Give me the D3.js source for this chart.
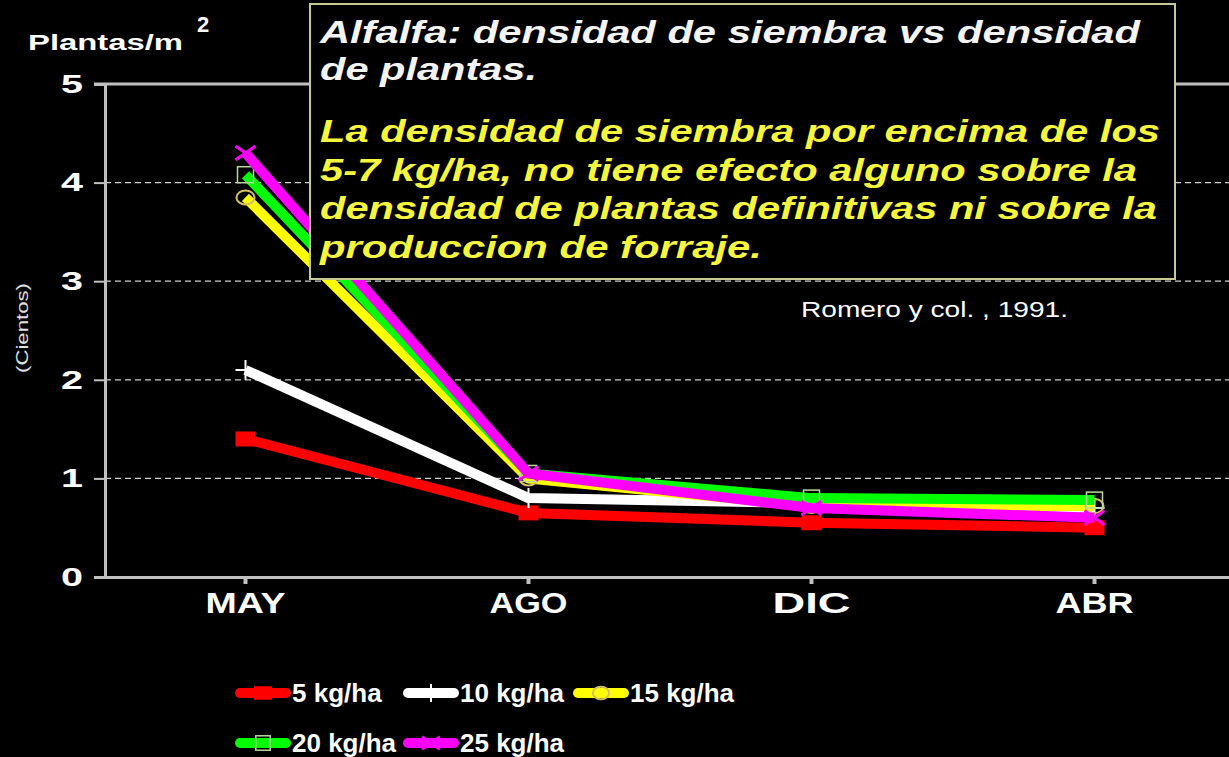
<!DOCTYPE html>
<html>
<head>
<meta charset="utf-8">
<script src="https://cdn.jsdelivr.net/npm/d3@7"></script>
<style>
  body { margin: 0; background: #000; }
  svg { display: block; font-family: "Liberation Sans", Arial, sans-serif; }
</style>
</head>
<body>
<svg id="chart" width="1229" height="757"></svg>
<script>
const width = 1229;
const height = 757;

// chart data
const months = ["MAY", "AGO", "DIC", "ABR"];
const seriesNames = ["5 kg/ha", "10 kg/ha", "15 kg/ha", "20 kg/ha", "25 kg/ha"];
const seriesColors = ["#ff0000", "#ffffff", "#ffff00", "#00ff00", "#ff00ff"];
const seriesMarkers = ["square", "plus", "circle", "hollowSquare", "cross"];
const kg5 = [1.4, 0.65, 0.55, 0.5];
const kg10 = [2.1, 0.8, 0.75, 0.7];
const kg15 = [3.85, 1.0, 0.72, 0.72];
const kg20 = [4.08, 1.05, 0.8, 0.78];
const kg25 = [4.3, 1.05, 0.7, 0.6];
const yTicks = [0, 1, 2, 3, 4, 5];

const seriesValues = [kg5, kg10, kg15, kg20, kg25];

// the slide text is drawn in a very wide face, so stretch lines to their width
function fit(sel, w) {
  sel.attr("textLength", w).attr("lengthAdjust", "spacingAndGlyphs");
}

const svg = d3.select("#chart");
svg.append("rect").attr("width", width).attr("height", height).attr("fill", "#000");

// scales
const x = d3.scaleBand().domain(months).range([104, 1236]);
const y = d3.scaleLinear().domain([0, 5]).range([577, 84]);

// dashed gridlines
svg.append("g")
  .selectAll("line")
  .data(yTicks.filter(d => d > 0 && d < 5))
  .enter()
  .append("line")
  .attr("x1", 105).attr("x2", width)
  .attr("y1", d => y(d)).attr("y2", d => y(d))
  .attr("stroke", "#d0d0d0")
  .attr("stroke-width", 1.2)
  .attr("stroke-dasharray", "6,4");

// top border of plot area
svg.append("line")
  .attr("x1", 94).attr("x2", width)
  .attr("y1", y(5)).attr("y2", y(5))
  .attr("stroke", "#c0c0c0").attr("stroke-width", 3);

// y axis
const yAxis = svg.append("g")
  .attr("transform", "translate(105,0)")
  .call(d3.axisLeft(y).tickValues(yTicks).tickSize(11).tickPadding(11).tickFormat(d3.format("d")));
yAxis.select(".domain").attr("stroke", "#c0c0c0").attr("stroke-width", 3);
yAxis.selectAll(".tick line").attr("stroke", "#c0c0c0").attr("stroke-width", 2);
yAxis.selectAll("text")
  .attr("fill", "#fff")
  .style("font-size", "26px")
  .style("font-weight", "bold")
  .call(fit, 22);

// x axis
const xAxis = svg.append("g")
  .attr("transform", `translate(0,${y(0)})`)
  .call(d3.axisBottom(x).tickSize(7).tickPadding(8).tickSizeOuter(0));
xAxis.select(".domain").attr("stroke", "#c0c0c0").attr("stroke-width", 3);
xAxis.selectAll(".tick line").attr("stroke", "#c0c0c0").attr("stroke-width", 4);
xAxis.selectAll("text")
  .attr("fill", "#fff")
  .style("font-size", "29px")
  .style("font-weight", "bold")
  .each(function(d) {
    d3.select(this).call(fit, d.length * 26 + (d === "MAY" ? 2 : 0));
  });

// axis titles
svg.append("text")
  .attr("x", 28).attr("y", 50)
  .attr("fill", "#fff")
  .style("font-size", "22px")
  .style("font-weight", "bold")
  .text("Plantas/m")
  .call(fit, 155);
svg.append("text")
  .attr("x", 197).attr("y", 32)
  .attr("fill", "#fff")
  .style("font-size", "22px")
  .style("font-weight", "bold")
  .text("2");

svg.append("text")
  .attr("transform", "translate(28,328) rotate(-90)")
  .attr("text-anchor", "middle")
  .attr("fill", "#e0e0e0")
  .style("font-size", "17px")
  .text("(Cientos)")
  .call(fit, 90);

// markers
function drawMarker(g, type, color, size) {
  const s = size;
  if (type === "square") {
    g.append("rect").attr("x", -s).attr("y", -s * 0.75).attr("width", 2 * s).attr("height", 1.5 * s).attr("fill", color);
  } else if (type === "hollowSquare") {
    g.append("rect").attr("x", -s * 0.8).attr("y", -s * 0.8).attr("width", 1.6 * s).attr("height", 1.6 * s)
      .attr("fill", "none").attr("stroke", "#b8d8a0").attr("stroke-width", 1.5);
  } else if (type === "circle") {
    g.append("ellipse").attr("rx", s * 0.9).attr("ry", s * 0.7)
      .attr("fill", "none").attr("stroke", "#d8c060").attr("stroke-width", 2);
  } else if (type === "plus") {
    g.append("path").attr("d", `M${-s},0H${s}M0,${-s}V${s}`).attr("stroke", color).attr("stroke-width", 2);
  } else if (type === "cross") {
    g.append("path").attr("d", `M${-s},${-s * 0.7}L${s},${s * 0.7}M${-s},${s * 0.7}L${s},${-s * 0.7}`)
      .attr("stroke", color).attr("stroke-width", 3);
  }
}

const line = d3.line()
  .x((d, i) => x(months[i]) + x.bandwidth() / 2)
  .y(d => y(d));

seriesValues.forEach((vals, si) => {
  svg.append("path")
    .datum(vals)
    .attr("fill", "none")
    .attr("stroke", seriesColors[si])
    .attr("stroke-width", 10)
    .attr("stroke-linejoin", "round")
    .attr("d", line);
  vals.forEach((v, i) => {
    const g = svg.append("g")
      .attr("transform", `translate(${x(months[i]) + x.bandwidth() / 2},${y(v)})`);
    drawMarker(g, seriesMarkers[si], seriesColors[si], 10);
  });
});

// note box
const box = svg.append("g");
box.append("rect")
  .attr("x", 310).attr("y", 4).attr("width", 865).attr("height", 275)
  .attr("fill", "#000")
  .attr("stroke", "#c8c890").attr("stroke-width", 2);

const titleLines = ["Alfalfa: densidad de siembra vs densidad", "de plantas."];
const titleWidths = [820, 217];
const noteLines = [
  "La densidad de siembra por encima de los",
  "5-7 kg/ha, no tiene efecto alguno sobre la",
  "densidad de plantas definitivas ni sobre la",
  "produccion de forraje."
];
const noteWidths = [840, 817, 837, 442];

box.selectAll("text.title")
  .data(titleLines)
  .enter()
  .append("text")
  .attr("class", "title")
  .attr("x", 320)
  .attr("y", (d, i) => 43 + i * 37)
  .attr("fill", "#f4f4f4")
  .attr("textLength", (d, i) => titleWidths[i])
  .attr("lengthAdjust", "spacingAndGlyphs")
  .style("font-size", "32px")
  .style("font-weight", "bold")
  .style("font-style", "italic")
  .text(d => d);
box.selectAll("text.note")
  .data(noteLines)
  .enter()
  .append("text")
  .attr("class", "note")
  .attr("x", 320)
  .attr("y", (d, i) => 142 + i * 38.7)
  .attr("fill", "#f6f63c")
  .attr("textLength", (d, i) => noteWidths[i])
  .attr("lengthAdjust", "spacingAndGlyphs")
  .style("font-size", "32px")
  .style("font-weight", "bold")
  .style("font-style", "italic")
  .text(d => d);

svg.append("text")
  .attr("x", 801).attr("y", 317)
  .attr("fill", "#fff")
  .style("font-size", "22px")
  .text("Romero y col. , 1991.")
  .call(fit, 267);

// legend
const legendPos = [
  { x: 240, y: 693 }, { x: 408, y: 693 }, { x: 578, y: 693 },
  { x: 240, y: 743 }, { x: 408, y: 743 }
];
seriesNames.forEach((name, si) => {
  const p = legendPos[si];
  const g = svg.append("g").attr("transform", `translate(${p.x},${p.y})`);
  g.append("line").attr("x1", 0).attr("x2", 46).attr("y1", 0).attr("y2", 0)
    .attr("stroke", seriesColors[si]).attr("stroke-width", 10).attr("stroke-linecap", "round");
  drawMarker(g.append("g").attr("transform", "translate(23,0)"), seriesMarkers[si], seriesColors[si], 9);
  g.append("text")
    .attr("x", 52).attr("y", 9)
    .attr("fill", "#fff")
    .style("font-size", "26px")
    .style("font-weight", "bold")
    .text(name);
});
</script>
</body>
</html>
